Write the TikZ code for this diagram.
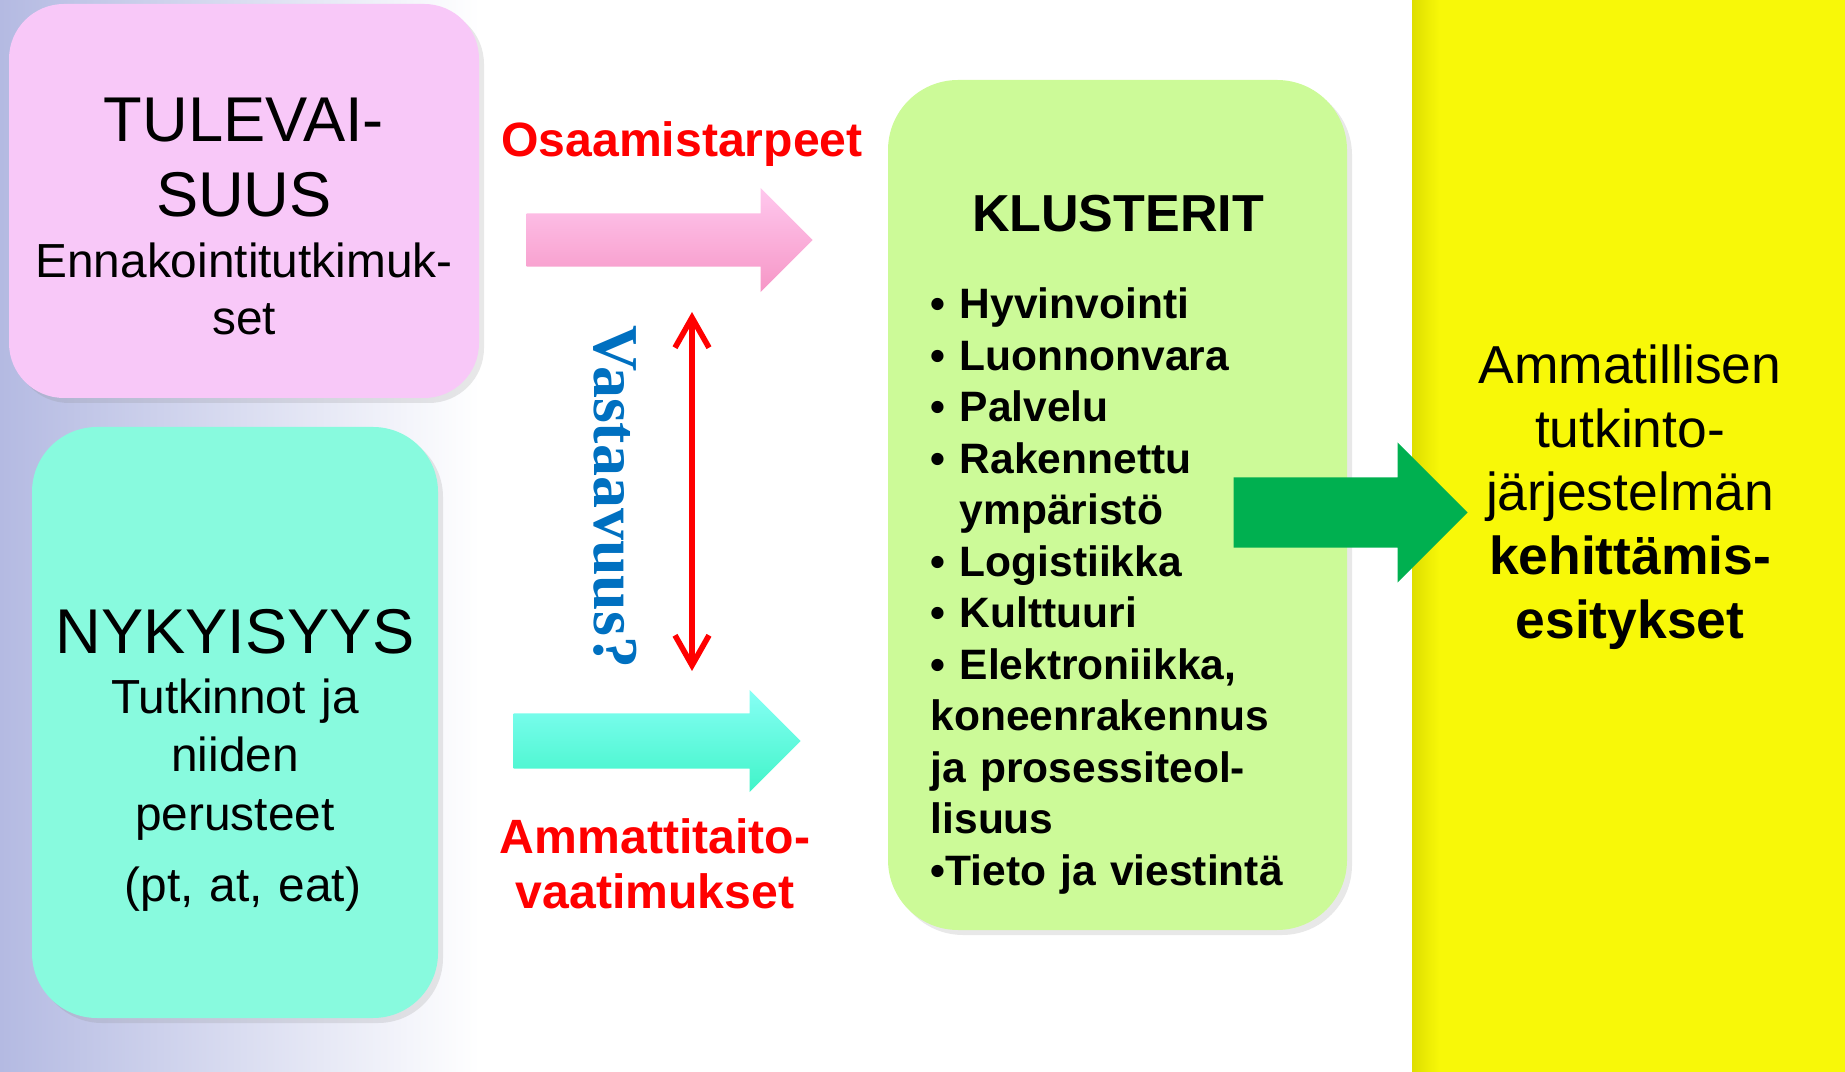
\documentclass[tikz,border=0pt]{standalone}
\usepackage{fontspec}
\setmainfont{Liberation Sans}
\newfontfamily\timesfont{Liberation Serif}
\usepackage{xcolor}
\usepackage{tikz}
\usetikzlibrary{positioning}
\usetikzlibrary{shapes.arrows, arrows.meta, shadows}
\definecolor{bgleft}{RGB}{180,186,226}
\definecolor{futurepink}{RGB}{248,200,248}
\definecolor{presentcyan}{RGB}{136,250,222}
\definecolor{clustergreen}{RGB}{204,250,152}
\definecolor{panelyellow}{RGB}{248,248,8}
\definecolor{paneledge}{RGB}{222,222,0}
\definecolor{pinkarrow}{RGB}{246,150,198}
\definecolor{pinklight}{RGB}{255,200,238}
\definecolor{cyanarrow}{RGB}{64,244,200}
\definecolor{cyanlight}{RGB}{135,255,245}
\definecolor{greenarrow}{RGB}{0,176,80}
\definecolor{labelblue}{RGB}{0,112,192}
\tikzstyle{box} = [rectangle, rounded corners=6mm, inner sep=0pt, drop shadow={opacity=0.18, shadow xshift=0.5mm, shadow yshift=-0.5mm}]
\tikzstyle{boxtext} = [text width=4.6cm, align=center, inner sep=0pt]
\tikzstyle{blockarrow} = [single arrow, single arrow tip angle=90, inner xsep=0pt, anchor=tail]
\tikzstyle{redlabel} = [text=red, font=\bfseries\fontsize{13.7}{15.6}\selectfont, inner sep=0pt]
\tikzstyle{twoway} = [red, line width=1.6pt, <->, >={Straight Barb[length=3mm, width=3.4mm]}]

\begin{document}
\begin{tikzpicture}
    \useasboundingbox (0,0) rectangle (18.45,-10.72);
    % background
    \shade[left color=bgleft, right color=white] (0,0) rectangle (4.8,-10.72);
    \fill[panelyellow] (14.12,0) rectangle (18.45,-10.72);
    \shade[left color=paneledge, right color=panelyellow] (14.12,0) rectangle (14.40,-10.72);
    %
    \node(future)[box, rounded corners=5.5mm, fill=futurepink, minimum width=4.70cm, minimum height=3.94cm] at (2.44,-2.01) {};
    \node(futuretext)[boxtext, font=\fontsize{13.6}{16.2}\selectfont] at ([yshift=-1.55mm]future.center) {\fontsize{18}{21.3}\selectfont TULEVAI-\\SUUS\\[1.4pt]\fontsize{13.6}{16.2}\selectfont Ennakointitutkimuk-\\set};
    \node(present)[box, rounded corners=6.5mm, fill=presentcyan, minimum width=4.06cm, minimum height=5.91cm] at (2.35,-7.225) {};
    \node(presenttext)[boxtext, font=\fontsize{13.6}{16.6}\selectfont] at ([yshift=-3.75mm]present.center) {\fontsize{18}{21}\selectfont NYKYISYYS\\[0.5pt]\fontsize{13.6}{16.6}\selectfont Tutkinnot ja\\niiden\\perusteet\\[3.6pt]\hspace*{0.16cm}(pt, at, eat)};
    %
    \node(clusters)[box, rounded corners=7mm, fill=clustergreen, minimum width=4.59cm, minimum height=8.5cm] at (11.175,-5.05) {};
    \node(clustertitle)[anchor=base, font=\bfseries\fontsize{14.8}{17}\selectfont, inner sep=0pt] at (11.18,-2.32) {KLUSTERIT};
    \node(clusterlist)[anchor=west, text width=4.2cm, align=left, inner sep=0pt, font=\bfseries\fontsize{12.1}{14.65}\selectfont] at (9.30,-5.91) {• Hyvinvointi\\ • Luonnonvara\\ • Palvelu\\ • Rakennettu\\ \phantom{• }ympäristö\\ • Logistiikka\\ • Kulttuuri\\ • Elektroniikka,\\ koneenrakennus\\ ja prosessiteol-\\ lisuus\\ •Tieto ja viestintä};
    %
    \node(proposals)[text width=4.2cm, align=center, inner sep=0pt, font=\fontsize{15.2}{18.1}\selectfont] at (16.30,-4.97) {Ammatillisen\\ tutkinto-\\ järjestelmän\\ \textbf{kehittämis-}\\ \textbf{esitykset}};
    %
    \node(needs)[blockarrow, top color=pinklight, middle color=pinkarrow, bottom color=pinkarrow, inner ysep=0.26cm, single arrow head extend=0.255cm, minimum height=2.86cm] at (5.26,-2.40) {};
    \node(reqs)[blockarrow, top color=cyanlight, middle color=cyanarrow, bottom color=cyanarrow, inner ysep=0.27cm, single arrow head extend=0.235cm, minimum height=2.87cm] at (5.13,-7.41) {};
    \node(output)[blockarrow, fill=greenarrow, inner ysep=0.345cm, single arrow head extend=0.35cm, minimum height=2.34cm] at (12.33,-5.125) {};
    %
    \node(needslabel)[redlabel, anchor=base] at (6.82,-1.565) {Osaamistarpeet};
    \node(reqslabel)[redlabel, text width=4cm, align=center] at (6.55,-8.635) {Ammattitaito-\\vaatimukset};
    \node(match)[rotate=-90, text=labelblue, font=\timesfont\bfseries\fontsize{18.2}{20}\selectfont, inner sep=0pt] at (6.15,-4.97) {Vastaavuus?};
    \coordinate(fittop) at (6.92,-3.12);
    \coordinate(fitbottom) at (6.92,-6.71);
    \draw[twoway] (fittop) -- (fitbottom);
\end{tikzpicture}
\end{document}
